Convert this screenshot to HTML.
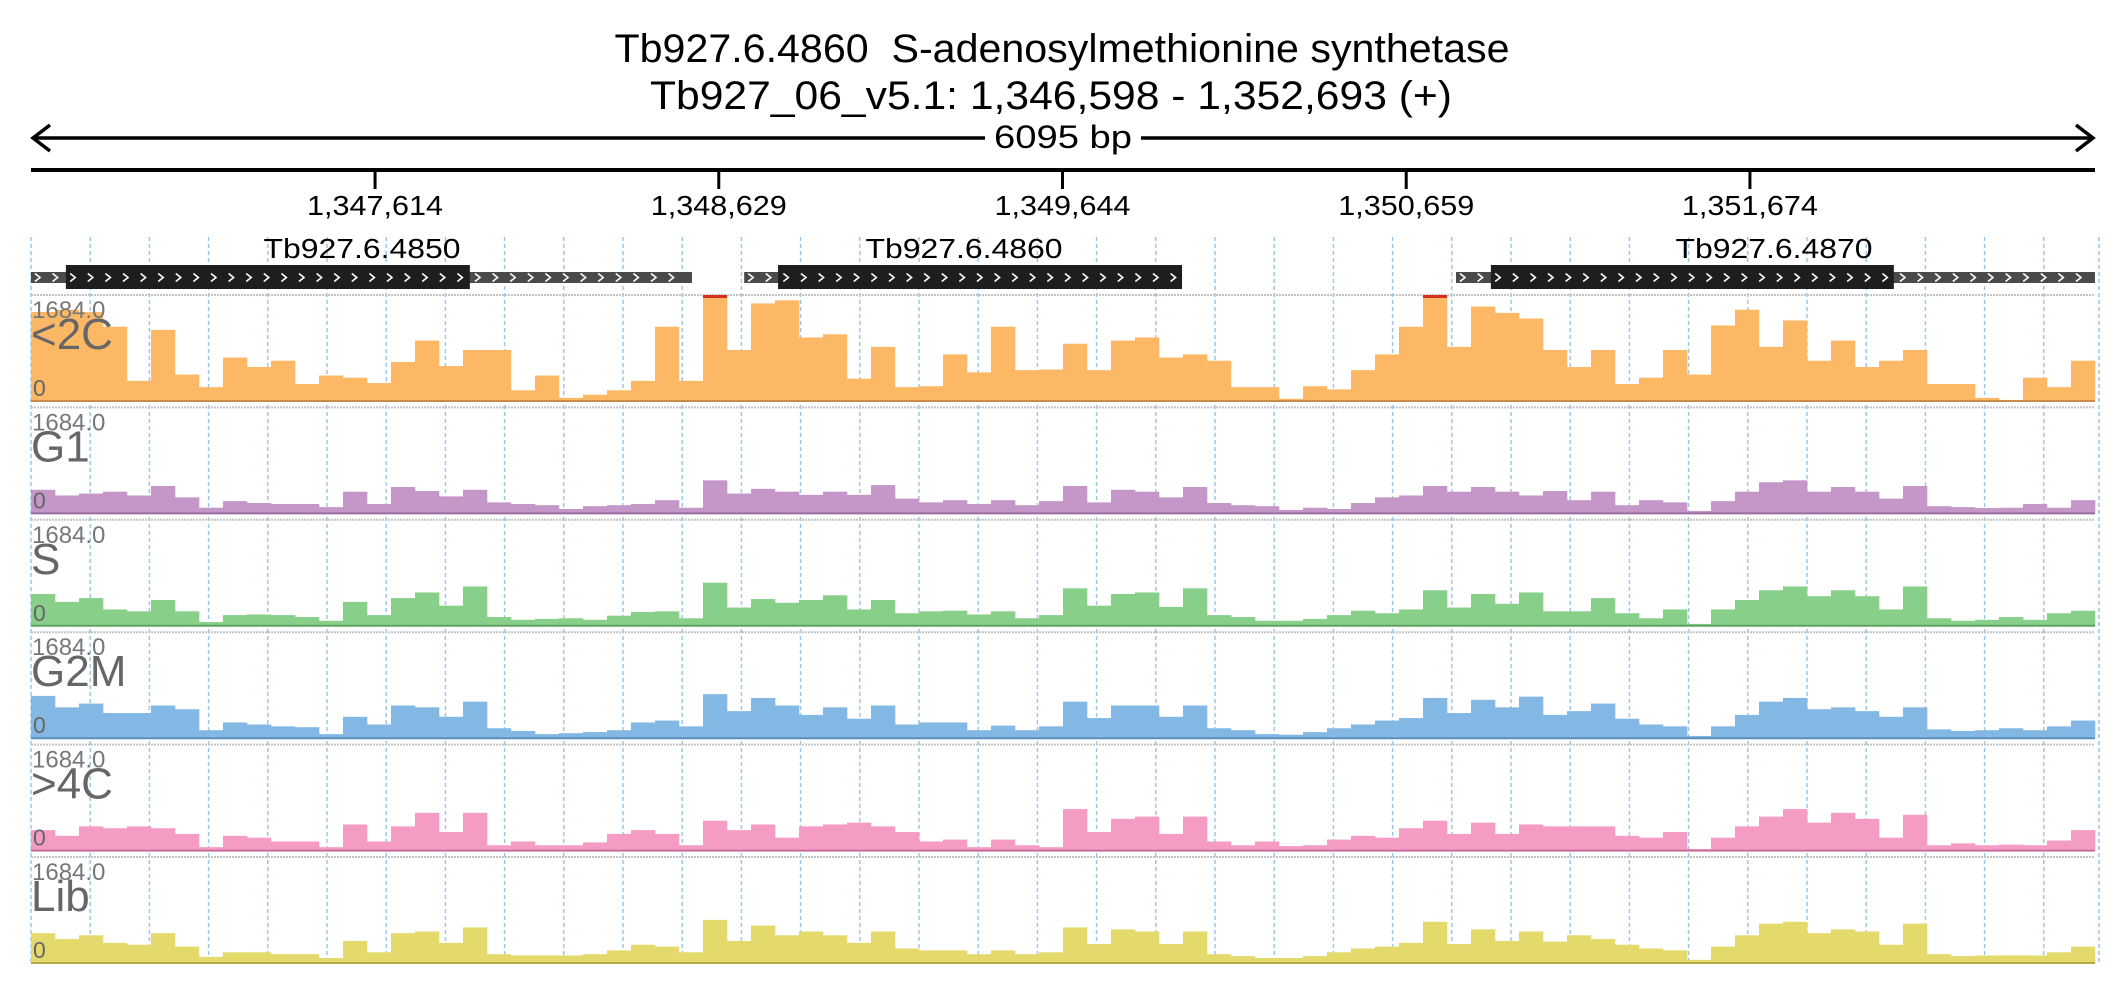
<!DOCTYPE html>
<html><head><meta charset="utf-8">
<style>
html,body{margin:0;padding:0;background:#fff;}
svg{display:block;font-family:"Liberation Sans",sans-serif;}
</style></head>
<body>
<svg id="chart" xmlns="http://www.w3.org/2000/svg" width="2126" height="1000" viewBox="0 0 2126 1000">
  <text x="1062" y="62" font-size="40" text-anchor="middle" textLength="895" lengthAdjust="spacingAndGlyphs" xml:space="preserve">Tb927.6.4860  S-adenosylmethionine synthetase</text>
  <text x="1051" y="109" font-size="40" text-anchor="middle" textLength="802" lengthAdjust="spacingAndGlyphs">Tb927_06_v5.1: 1,346,598 - 1,352,693 (+)</text>
  <g stroke="#000" stroke-width="3.5" fill="none">
    <line x1="33" y1="138" x2="985" y2="138"/>
    <line x1="1141" y1="138" x2="2093" y2="138"/>
    <polyline points="50,125 33,138 50,151"/>
    <polyline points="2076,125 2093,138 2076,151"/>
  </g>
  <text x="1063" y="148" font-size="32" text-anchor="middle" textLength="138" lengthAdjust="spacingAndGlyphs">6095 bp</text>
  <line x1="31" y1="170" x2="2095" y2="170" stroke="#000" stroke-width="4"/>
  <g id="axis"></g>
  <g id="grid"></g>
  <g id="genes"></g>
  <g id="tracks"></g>
</svg>
<script>
const NS='http://www.w3.org/2000/svg';
const startBp=1346598, endBp=1352693;
const tickLabels=['1,347,614','1,348,629','1,349,644','1,350,659','1,351,674'];
const tickBp=[1347614,1348629,1349644,1350659,1351674];
const geneNames=['Tb927.6.4850','Tb927.6.4860','Tb927.6.4870'];
const utrStart=[1346598,1348704,1350806];
const utrEnd=[1348550,1349997,1352693];
const cdsStart=[1346701,1348804,1350909];
const cdsEnd=[1347894,1349997,1352099];
const trackNames=['<2C','G1','S','G2M','>4C','Lib'];
const trackMax=1684;
const v2C=[1415,1450,1415,1180,320,1130,420,220,690,540,640,270,405,370,285,620,960,555,810,810,170,405,50,100,170,320,1180,320,1800,810,1550,1600,1010,1060,355,860,220,235,740,455,1180,490,500,910,490,960,1010,690,740,640,220,220,35,235,185,490,740,1180,1800,860,1500,1400,1310,810,540,810,270,370,810,420,1200,1450,860,1280,640,960,540,640,810,270,270,50,17,370,220,640];
const vG1=[375,285,315,345,285,435,255,90,195,165,150,150,100,345,150,420,355,270,375,175,150,130,70,115,130,150,210,90,525,315,390,345,295,345,295,450,235,175,210,150,210,130,195,435,175,375,345,255,420,165,130,115,55,90,70,165,255,285,435,345,420,345,285,355,210,345,130,210,175,40,195,345,495,525,345,420,345,235,435,115,100,85,90,150,90,210];
const vS=[505,380,440,260,230,410,230,60,170,180,170,140,80,380,170,440,530,320,625,140,95,110,120,95,160,220,230,120,685,290,425,365,410,485,260,410,200,230,240,180,230,120,170,595,320,505,530,300,595,170,140,80,80,110,170,240,200,260,565,290,505,350,530,230,230,440,200,120,260,30,260,410,565,625,470,565,470,260,625,120,80,95,140,95,200,240];
const vG2M=[672,490,550,400,400,520,460,127,250,218,188,175,65,340,218,520,490,340,580,158,115,65,80,97,127,250,280,188,700,430,640,520,370,490,310,520,218,250,250,127,200,127,188,580,320,520,520,340,520,158,127,65,55,97,158,218,280,320,640,400,610,490,660,370,430,550,310,218,188,36,188,370,580,640,460,490,430,340,490,140,115,127,158,127,188,280];
const v4C=[325,235,385,355,385,355,265,55,235,205,145,145,55,415,145,385,600,295,600,85,145,85,85,130,265,325,265,85,475,325,415,205,385,415,445,385,295,145,175,55,175,85,55,660,295,505,540,265,540,145,85,145,72,85,175,235,205,355,475,265,445,265,415,385,385,385,235,205,295,25,205,385,540,660,445,600,505,205,570,85,115,85,95,85,160,325];
const vLib=[473,380,440,320,290,473,260,97,170,170,140,140,80,350,170,473,500,320,565,140,120,120,120,140,200,290,260,170,685,350,595,440,500,440,320,500,230,200,200,140,200,140,170,565,300,535,500,300,500,140,110,80,80,110,170,230,260,320,655,300,535,350,500,340,440,380,290,230,200,50,260,440,625,655,473,535,500,290,625,140,110,120,120,120,170,260];
const series=[v2C,vG1,vS,vG2M,v4C,vLib];
const colors=['#fdb866','#c497c8','#88d08a','#82b8e3','#f59cc4','#e4d96b'];
const edge=['#c98b45','#9a6ea0','#5fa361','#5a8fba','#c56f98','#b5aa45'];

const X0=31,X1=2095;
const xBp=bp=>X0+(bp-startBp)/(endBp-startBp)*(X1-X0);
const binW=(X1-X0)/86;
const xBin=i=>X0+i*binW;
const trackTop=i=>295+i*112.4;
const trackH=106;
const yVal=(t,v)=>trackTop(t)+trackH-Math.min(v,trackMax)/trackMax*trackH;

function mk(tag,attrs,parent){const e=document.createElementNS(NS,tag);for(const k in attrs)e.setAttribute(k,attrs[k]);parent.appendChild(e);return e;}

const axis=document.getElementById('axis');
tickBp.forEach((bp,i)=>{
  const x=xBp(bp);
  const t=mk('line',{x1:x,y1:170,x2:x,y2:189,stroke:'#000','stroke-width':3},axis);
  
  
  const l=mk('text',{x:x,y:215,'font-size':28,'text-anchor':'middle',textLength:136,lengthAdjust:'spacingAndGlyphs'},axis);
  l.textContent=tickLabels[i];
  
  
});

const grid=document.getElementById('grid');
for(let k=0;k<=35;k++){
  const x=Math.min(X0+k*59.2,X1+4);
  const g=mk('line',{x1:x,y1:237,x2:x,y2:965,stroke:'#9cc7ea','stroke-width':1.5,'stroke-dasharray':'4,3'},grid);
  
  
}

const genes=document.getElementById('genes');
geneNames.forEach((name,i)=>{
  const grp=mk('g',{},genes);
  
  
  const ux0=xBp(utrStart[i]),ux1=xBp(utrEnd[i]),cx0=xBp(cdsStart[i]),cx1=xBp(cdsEnd[i]);
  mk('rect',{x:ux0,y:272,width:ux1-ux0,height:11,fill:'#4a4a4a'},grp);
  mk('rect',{x:cx0,y:265,width:cx1-cx0,height:24,fill:'#1e1e1e'},grp);
  let s='';
  for(let x=ux0+4;x<ux1-8;x+=17.6){s+=`M${x},${273.5}L${x+5},${277.5}L${x},${281.5}`;}
  mk('path',{d:s,stroke:'#fff','stroke-width':1.6,fill:'none'},grp);
  const lbl=mk('text',{x:[362,964,1774][i],y:258,'font-size':28,'text-anchor':'middle',textLength:197,lengthAdjust:'spacingAndGlyphs'},grp);
  lbl.textContent=name;
  
  
});

const tracks=document.getElementById('tracks');
series.forEach((vals,t)=>{
  const grp=mk('g',{},tracks);
  
  
  const top=trackTop(t),base=top+trackH;
  mk('line',{x1:X0,y1:top,x2:X1,y2:top,stroke:'#c4c4c4','stroke-width':2,'stroke-dasharray':'2,1'},grp);
  vals.forEach((v,i)=>{
    const x=xBin(i),y=yVal(t,v);
    const b=mk('rect',{x:x,y:y,width:binW+0.3,height:base-y,fill:colors[t]},grp);
    
    
    if(v>trackMax){
      const c=mk('rect',{x:x,y:top,width:binW,height:3,fill:'#d7301f'},grp);
      
      
    }
  });
  mk('line',{x1:X0,y1:base,x2:X1,y2:base,stroke:edge[t],'stroke-width':2},grp);
  const mx=mk('text',{x:32,y:top+23,'font-size':24,fill:'#777'},grp);
  mx.textContent='1684.0';
  
  
  const nm=mk('text',{x:31,y:top+54,'font-size':44,fill:'#666'},grp);
  nm.textContent=trackNames[t];
  
  
  const z=mk('text',{x:33,y:top+101,'font-size':23,fill:'#666'},grp);
  z.textContent='0';
  
  
});
</script>
</body></html>
